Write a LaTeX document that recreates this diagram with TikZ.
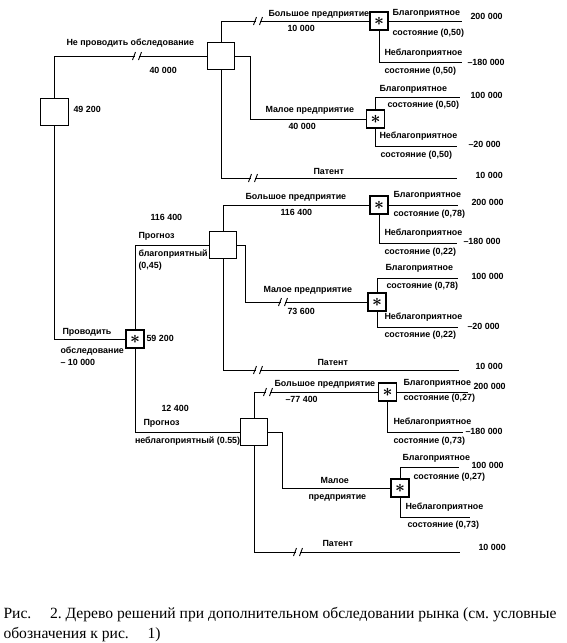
\documentclass[tikz,border=0pt]{standalone}
\usepackage{fontspec}
\setmainfont{Liberation Serif}
\setsansfont{Liberation Sans}
\frenchspacing
\tikzset{
  dec/.style={draw,line width=1.4pt,minimum size=27.5pt,inner sep=0pt},
  chance/.style={draw,line width=1.3pt,minimum size=18pt,inner sep=0pt,font=\LARGE\boldmath},
  lbl/.style={anchor=west,inner sep=0pt,text height=6.5pt,text depth=1.8pt,font=\sffamily\bfseries\fontsize{8.9}{9}\selectfont},
  brk/.pic={\fill[white] (-2.2,-1.5) rectangle (2.2,1.5); \draw[line width=0.9pt] (-4.5,4) -- (-1.5,-4) (1.5,4) -- (4.5,-4);}
}
\begin{document}
\begin{tikzpicture}[x=1pt,y=-1pt,line width=1pt]
\useasboundingbox (0,0) rectangle (566,643);
% decision squares and chance boxes
\node[dec] (r) at (54.5,112) {};
\node[dec] (d1) at (221,56) {};
\node[dec] (d3) at (223,245) {};
\node[dec] (d4) at (254,432) {};
\foreach \n/\x/\y in {c1/379/21,c2/375.5/119,c3/135/339,c4/379/205,c5/377/302,c6/387.5/392,c7/400/488}
  \node[chance] (\n) at (\x,\y) {$\ast$};
% free ends of the branches
\foreach \n/\x/\y in {e11/462/21,e12/462/62,e13/460/97,e14/457/146,e15/457/178,
  e21/458/205,e22/457/243,e23/458/278,e24/458/327,e25/459/370,
  e31/468/392,e32/463/432,e33/459/467,e34/470/517,e35/460/552}
  \coordinate (\n) at (\x,\y);
% (a) no survey
\draw (r.north) |- (d1.west);
\draw (d1.north) |- (c1.west); \draw (c1.east) -- (e11); \draw (c1.south) |- (e12);
\draw (d1.east) -- ++(15.5,0) |- (c2.west); \draw (c2.north) |- (e13); \draw (c2.south) |- (e14);
\draw (d1.south) |- (e15);
% (b) survey, favourable forecast
\draw (r.south) |- (c3.west);
\draw (c3.north) |- (d3.west);
\draw (d3.north) |- (c4.west); \draw (c4.east) -- (e21); \draw (c4.south) |- (e22);
\draw (d3.east) -- ++(8.5,0) |- (c5.west); \draw (c5.north) |- (e23); \draw (c5.south) |- (e24);
\draw (d3.south) |- (e25);
% (c) survey, unfavourable forecast
\draw (c3.south) |- (d4.west);
\draw (d4.north) |- (c6.west); \draw (c6.east) -- (e31); \draw (c6.south) |- (e32);
\draw (d4.east) -- ++(14.5,0) |- (c7.west); \draw (c7.north) |- (e33); \draw (c7.south) |- (e34);
\draw (d4.south) |- (e35);
% cut branches
\foreach \x/\y in {137/56,258/21,253/178,283/302,258/370,268/392,298/552}
  \path (\x,\y) pic {brk};
% labels
\foreach \x/\y/\t [count=\i] in {66/43/{Не проводить обследование},149/71/40 000,73/110/49 200,
  268/14/Большое предприятие,287/29/10 000,392/13/Благоприятное,392/33/{состояние (0,50)},
  384/53/Неблагоприятное,384/71/{состояние (0,50)},265/110/Малое предприятие,288/127/40 000,
  379/89/Благоприятное,387/105/{состояние (0,50)},379/136/Неблагоприятное,380/155/{состояние (0,50)},
  313/172/Патент,
  62/332/Проводить,60/351/обследование,60/363/– 10 000,146/339/59 200,
  150/218/116 400,138/236/Прогноз,138/254/благоприятный,138/266/{(0,45)},
  245/197/Большое предприятие,280/213/116 400,393/195/Благоприятное,393/214/{состояние (0,78)},
  384/233/Неблагоприятное,384/252/{состояние (0,22)},263/290/Малое предприятие,287/312/73 600,
  385/268/Благоприятное,386/286/{состояние (0,78)},384/317/Неблагоприятное,384/335/{состояние (0,22)},
  317/363/Патент,
  161/409/12 400,143/423/Прогноз,134.5/441/неблагоприятный (0.55),
  274/384/Большое предприятие,285/400/–77 400,403/383/Благоприятное,403/398/{состояние (0,27)},
  393/422/Неблагоприятное,393/441/{состояние (0,73)},320/481/Малое,308/497/предприятие,
  402/458/Благоприятное,413/477/{состояние (0,27)},405/507/Неблагоприятное,407/525/{состояние (0,73)},
  322/544/Патент}
  \node[lbl] (t\i) at (\x,\y) {\t};
% outcomes
\foreach \x/\y/\v [count=\i] in {470/17/200 000,467/63/–180 000,470/96/100 000,468/145/–20 000,475/176/10 000,
  471/203/200 000,463/242/–180 000,471/277/100 000,467/327/–20 000,475/367/10 000,
  473/387/200 000,465/432/–180 000,471/466/100 000,478/548/10 000}
  \node[lbl] (v\i) at (\x,\y) {\v};
% caption
\node[anchor=north west,inner sep=0pt,align=left,font=\fontsize{15.6}{20}\selectfont] (cap) at (3,607)
  {Рис.\hspace{1.2em}2. Дерево решений при дополнительном обследовании рынка (см. условные\\
   обозначения к рис.\hspace{1.2em}1)};
\end{tikzpicture}
\end{document}
